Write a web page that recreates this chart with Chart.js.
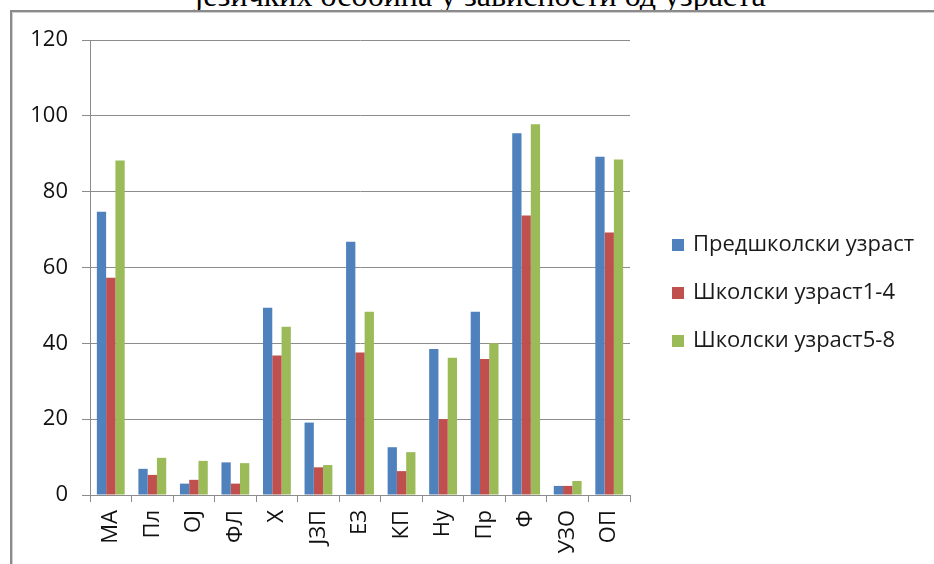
<!DOCTYPE html>
<html lang="sr">
<head>
<meta charset="utf-8">
<title>Језичке особине по узрасту</title>
<script src="https://cdn.jsdelivr.net/npm/chart.js"></script>
<style>
  html, body { margin: 0; padding: 0; background: #fff; overflow: hidden; }
  #wrap { position: relative; width: 934px; height: 564px; }
  #frame {
    position: absolute; left: 10px; top: 10px; right: -4px; bottom: -4px;
    border-top: 2px solid #8a8a8a; border-left: 2px solid #8a8a8a;
    box-shadow: inset 1px 1px 0 #d0d0d0;
  }
  #naslov {
    position: absolute; left: 0; width: 960px; top: -21px;
    text-align: center; font: 32px/32px "Liberation Serif", "DejaVu Serif", serif;
    color: #000; white-space: nowrap;
  }
  canvas { position: absolute; left: 0; top: 0; }
</style>
</head>
<body>
<div id="wrap">
  <div id="naslov">језичких особина у зависности од узраста</div>
  <div id="frame"></div>
  <canvas id="grafikon" width="934" height="564"></canvas>
</div>
<script>
  // ознаке категорија
  const kategorije = ['МА', 'Пл', 'ОЈ', 'ФЛ', 'Х', 'ЈЗП', 'ЕЗ', 'КП', 'Ну', 'Пр', 'Ф', 'УЗО', 'ОП'];

  // вредности по узрасним групама
  const predskolski = [74.7, 6.9, 3.0, 8.6, 49.4, 19.1, 66.8, 12.6, 38.5, 48.3, 95.4, 2.4, 89.2];
  const skolski14   = [57.3, 5.3, 4.0, 3.0, 36.8, 7.3, 37.6, 6.3, 20.0, 35.9, 73.7, 2.4, 69.2];
  const skolski58   = [88.2, 9.8, 9.0, 8.4, 44.4, 7.9, 48.3, 11.3, 36.2, 40.0, 97.8, 3.7, 88.5];

  const nazivi = ['Предшколски узраст', 'Школски узраст1-4', 'Школски узраст5-8'];
  const yPodeoci = [0, 20, 40, 60, 80, 100, 120];

  const boje = ['#4f81bd', '#c0504d', '#9bbb59'];
  const sivo = '#8c8c8c';
  const font = '"Open Sans", "DejaVu Sans", sans-serif';

  // легенда десно од графикона
  const legenda = {
    id: 'legenda',
    afterDraw(chart) {
      const ctx = chart.ctx;
      ctx.save();
      ctx.font = '22px ' + font;
      ctx.textBaseline = 'middle';
      chart.data.datasets.forEach((ds, i) => {
        const y = 245 + i * 48;
        ctx.fillStyle = ds.backgroundColor;
        ctx.fillRect(672, y - 6, 12, 12);
        ctx.fillStyle = '#1a1a1a';
        ctx.fillText(ds.label, 693, y);
      });
      ctx.restore();
    }
  };

  new Chart(document.getElementById('grafikon'), {
    type: 'bar',
    data: {
      labels: kategorije,
      datasets: [predskolski, skolski14, skolski58].map((d, i) => ({
        label: nazivi[i],
        data: d,
        backgroundColor: boje[i],
        borderWidth: 0,
        categoryPercentage: 0.67,
        barPercentage: 1.0
      }))
    },
    options: {
      responsive: false,
      animation: false,
      devicePixelRatio: 1,
      layout: { padding: { left: 0, top: 40, right: 304, bottom: 0 } },
      plugins: { legend: { display: false }, tooltip: { enabled: false } },
      scales: {
        x: {
          grid: { drawOnChartArea: false, drawTicks: true, tickLength: 7, color: sivo, offset: true },
          border: { color: sivo, width: 1 },
          ticks: { minRotation: 90, maxRotation: 90, padding: 8, color: '#111', font: { family: font, size: 22 } },
          afterFit(s) { s.height = 69; }
        },
        y: {
          min: 0, max: 120,
          afterBuildTicks(s) { s.ticks = yPodeoci.map(v => ({ value: v })); },
          grid: { color: sivo, tickLength: 8 },
          border: { color: sivo, width: 1 },
          ticks: { padding: 14, color: '#111', font: { family: font, size: 22 } },
          afterFit(s) { s.width = 90; }
        }
      }
    },
    plugins: [legenda]
  });
</script>
</body>
</html>
